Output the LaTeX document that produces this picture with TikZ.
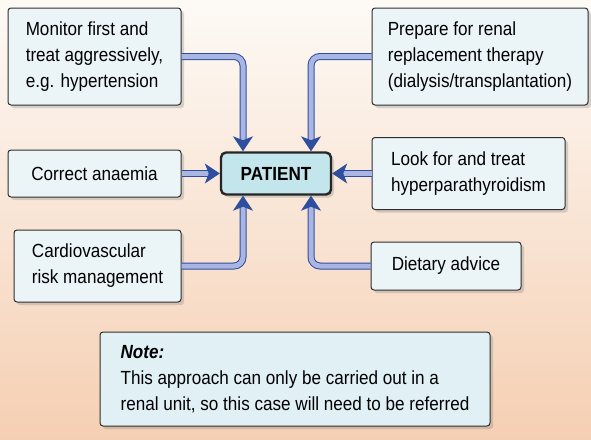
\documentclass[tikz,border=0pt]{standalone}
\usepackage{fontspec}
\setmainfont{Liberation Sans}[FakeStretch=0.9]
\usetikzlibrary{arrows.meta, positioning, shadows}
\definecolor{bgtop}{HTML}{FDFAF6}
\definecolor{bgbottom}{HTML}{F5CFB3}
\definecolor{boxfill}{HTML}{EBF5F7}
\definecolor{notefill}{HTML}{E1F0F4}
\definecolor{patfill}{HTML}{C3E5EC}
\definecolor{boxline}{HTML}{2E2E2E}
\definecolor{arrowdark}{HTML}{2F4E9E}
\definecolor{arrowlight}{HTML}{A9B5E3}

\begin{document}
\begin{tikzpicture}[
  x=1pt, y=-1pt,
  item/.style={
    rectangle, rounded corners=3pt,
    draw=boxline, line width=1pt, fill=boxfill,
    drop shadow={shadow xshift=3pt, shadow yshift=-3pt, opacity=0.3},
    font=\fontsize{19}{26}\selectfont, align=left,
    inner sep=0pt
  },
  note/.style={
    item, fill=notefill
  },
  patient/.style={
    item, rounded corners=5pt, line width=2.4pt,
    draw=black!85, fill=patfill, font=\fontsize{19}{26}\selectfont\bfseries
  },
  conn/.style={
    draw=arrowdark, line width=1pt, double=arrowlight, double distance=5pt,
    rounded corners=9pt,
    -{Stealth[length=15pt, width=20pt, inset=4pt, fill=arrowdark]}
  }
]
  \shade[top color=bgtop, bottom color=bgbottom] (0,0) rectangle (591,439);
  \useasboundingbox (0,0) rectangle (591,439);

  \node[item, minimum width=173pt, minimum height=97pt] (monitor) at (94.5,56.5)
    {Monitor first and\\treat aggressively,\\e.g. hypertension};
  \node[item, minimum width=173pt, minimum height=47pt] (anaemia) at (94.5,173.5)
    {Correct anaemia};
  \node[item, minimum width=167pt, minimum height=72pt] (cardio) at (97.5,266)
    {Cardiovascular\\risk management};
  \node[patient, minimum width=110pt, minimum height=42pt] (pat) at (276,173.5)
    {PATIENT};
  \node[item, minimum width=216pt, minimum height=97pt] (renal) at (480,56.5)
    {Prepare for renal\\replacement therapy\\(dialysis/transplantation)};
  \node[item, minimum width=193pt, minimum height=72pt] (parathyroid) at (468.5,173.5)
    {Look for and treat\\hyperparathyroidism};
  \node[item, minimum width=150pt, minimum height=48pt] (diet) at (446,266)
    {Dietary advice};
  \node[note, minimum width=390pt, minimum height=94pt] (note) at (295,379)
    {\textbf{\textit{Note:}}\\This approach can only be carried out in a\\renal unit, so this case will need to be referred};

  \draw[conn] (monitor.east) -| ([xshift=-33pt]pat.north);
  \draw[conn] (anaemia.east) -- (pat.west);
  \draw[conn] (cardio.east) -| ([xshift=-33pt]pat.south);
  \draw[conn] (renal.west) -| ([xshift=35pt]pat.north);
  \draw[conn] (parathyroid.west) -- (pat.east);
  \draw[conn] (diet.west) -| ([xshift=35pt]pat.south);
\end{tikzpicture}
\end{document}
